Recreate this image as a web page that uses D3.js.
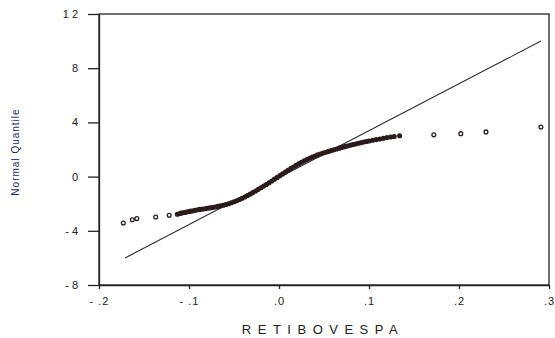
<!DOCTYPE html>
<html>
<head>
<meta charset="utf-8">
<script src="https://cdn.jsdelivr.net/npm/d3@7"></script>
<style>
body { margin: 0; background: #fff; }
text { font-family: "Liberation Sans", Arial, sans-serif; }
</style>
</head>
<body>
<script>
// sample values (RETIBOVESPA) and their normal quantiles
var retX = [-0.173, -0.163, -0.158, -0.137, -0.122,
  -0.113, -0.110, -0.108, -0.105, -0.103, -0.100, -0.098, -0.095, -0.093, -0.090,
  -0.088, -0.085, -0.082, -0.080, -0.077, -0.074, -0.071, -0.068, -0.065, -0.062,
  -0.059, -0.056, -0.053, -0.050, -0.047, -0.044, -0.041, -0.038, -0.035, -0.032,
  -0.029, -0.026, -0.023, -0.020, -0.017, -0.014, -0.011, -0.008, -0.005, -0.002,
  0.001, 0.004, 0.007, 0.010, 0.013, 0.016, 0.019, 0.022, 0.025, 0.028,
  0.031, 0.034, 0.037, 0.040, 0.043, 0.046, 0.049, 0.052, 0.055, 0.058,
  0.061, 0.064, 0.067, 0.070, 0.073, 0.076, 0.079, 0.082, 0.085, 0.088,
  0.091, 0.094, 0.097, 0.100, 0.104, 0.108, 0.112, 0.116, 0.120, 0.124,
  0.128, 0.134, 0.172, 0.202, 0.230, 0.291]
var normQ = [-3.42, -3.18, -3.10, -2.98, -2.86,
  -2.78, -2.72, -2.68, -2.65, -2.62, -2.58, -2.55, -2.52, -2.48, -2.45,
  -2.42, -2.40, -2.37, -2.34, -2.31, -2.28, -2.24, -2.20, -2.16, -2.11,
  -2.06, -2.00, -1.93, -1.86, -1.78, -1.69, -1.60, -1.50, -1.40, -1.29,
  -1.18, -1.06, -0.94, -0.82, -0.70, -0.58, -0.45, -0.32, -0.19, -0.06,
  0.07, 0.20, 0.33, 0.46, 0.59, 0.71, 0.83, 0.95, 1.06, 1.16,
  1.26, 1.35, 1.44, 1.52, 1.60, 1.67, 1.74, 1.80, 1.86, 1.92,
  1.98, 2.04, 2.10, 2.16, 2.21, 2.26, 2.31, 2.36, 2.41, 2.46,
  2.50, 2.55, 2.59, 2.63, 2.68, 2.73, 2.78, 2.83, 2.88, 2.92,
  2.96, 3.01, 3.08, 3.17, 3.30, 3.66]

// reference line end points
var lineX = [-0.171, 0.291]
var lineY = [-6.0, 10.0]

var xTicks = [-0.2, -0.1, 0, 0.1, 0.2, 0.3]
var yTicks = [-8, -4, 0, 4, 8, 12]

var W = 555, H = 338
var plotL = 99, plotR = 549, plotT = 14, plotB = 285

var svg = d3.select("body").append("svg")
  .attr("width", W)
  .attr("height", H)

var x = d3.scaleLinear().domain([-0.2, 0.3]).range([plotL, plotR])
var y = d3.scaleLinear().domain([-8, 12]).range([plotB, plotT])

// frame
svg.append("rect")
  .attr("x", plotL).attr("y", plotT)
  .attr("width", plotR - plotL).attr("height", plotB - plotT)
  .attr("fill", "none")
  .attr("stroke", "#222")
  .attr("stroke-width", 1.3)

var fmtX = function(d){
  var s = d3.format(".1f")(Math.abs(d)).replace("0.", ".")
  return d < 0 ? "- " + s : s
}

var xAxis = svg.append("g")
  .attr("transform", "translate(0," + plotB + ")")
  .call(d3.axisBottom(x).tickValues(xTicks).tickFormat(fmtX).tickSize(4).tickSizeOuter(0).tickPadding(8))
xAxis.select(".domain").attr("stroke", "#222").attr("stroke-width", 1.3)
xAxis.selectAll("line").attr("stroke", "#222").attr("stroke-width", 1.3)
xAxis.selectAll("text").attr("font-size", 11).attr("fill", "#222").attr("letter-spacing", 1)

var yAxis = svg.append("g")
  .attr("transform", "translate(" + plotL + ",0)")
  .call(d3.axisLeft(y).tickValues(yTicks)
    .tickFormat(function(d){ return d < 0 ? "- " + Math.abs(d) : String(d).split("").join(" ") })
    .tickSize(11).tickSizeOuter(0).tickPadding(10))
yAxis.select(".domain").attr("stroke", "#222").attr("stroke-width", 1.3)
yAxis.selectAll("line").attr("stroke", "#222").attr("stroke-width", 1.3)
yAxis.selectAll("text").attr("font-size", 11).attr("fill", "#222")

// reference line
svg.append("line")
  .attr("x1", x(lineX[0])).attr("y1", y(lineY[0]))
  .attr("x2", x(lineX[1])).attr("y2", y(lineY[1]))
  .attr("stroke", "#2a2a3a")
  .attr("stroke-width", 1.1)

// points: the tail ones are drawn hollow, the dense middle filled
svg.append("g").selectAll("circle")
  .data(retX)
  .enter().append("circle")
  .attr("cx", function(d){ return x(d) })
  .attr("cy", function(d, i){ return y(normQ[i]) })
  .attr("r", 1.9)
  .attr("fill", function(d){ return (d < -0.12 || d > 0.14) ? "#fff" : "#2b1b1b" })
  .attr("stroke", "#2b1b1b")
  .attr("stroke-width", 1.3)

// axis titles
svg.append("text")
  .attr("x", 323).attr("y", 334)
  .attr("text-anchor", "middle")
  .attr("font-size", 13)
  .attr("letter-spacing", 6.5)
  .attr("fill", "#222")
  .text("RETIBOVESPA")

svg.append("text")
  .attr("transform", "translate(19,152) rotate(-90)")
  .attr("text-anchor", "middle")
  .attr("font-size", 10)
  .attr("letter-spacing", 1)
  .attr("fill", "#1c2a66")
  .text("Normal Quantile")
</script>
</body>
</html>
